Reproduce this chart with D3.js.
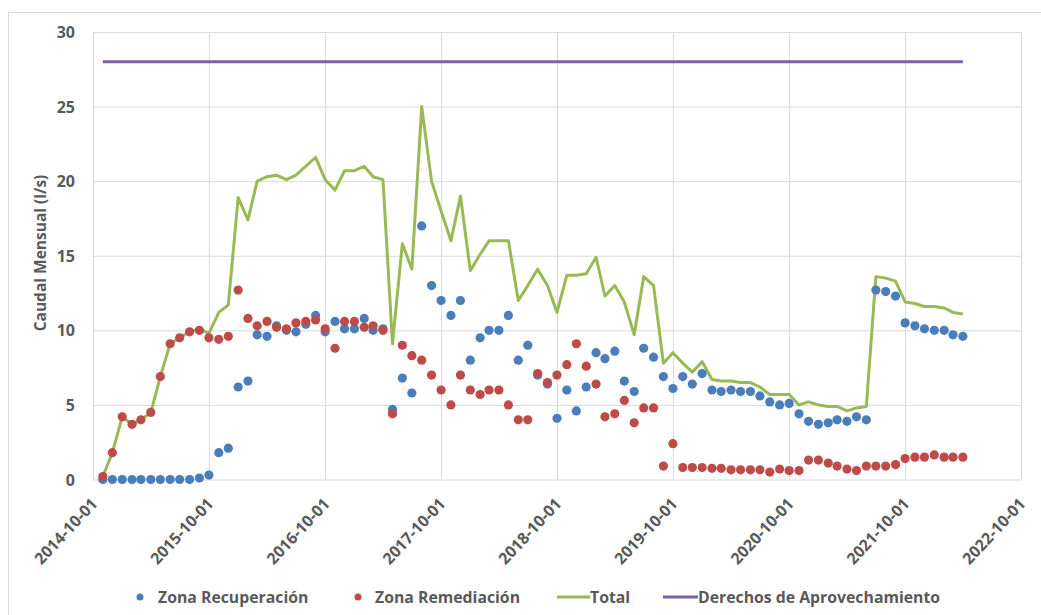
<!DOCTYPE html>
<html lang="es">
<head>
<meta charset="UTF-8">
<title>Caudal Mensual</title>
<script src="https://d3js.org/d3.v7.min.js"></script>
<style>
  body { margin: 0; background: #fff; font-family: "Open Sans", sans-serif; }
  svg { display: block; }
  .axis .domain { display: none; }
  .axis line { stroke: #d9d9d9; stroke-width: 1; }
  .axis text { fill: #595959; font-weight: bold; font-family: "Open Sans", sans-serif; }
  .y.axis text { font-size: 16px; }
  .x.axis text { font-size: 16px; }
  .legend text { fill: #595959; font-weight: bold; font-size: 15.8px; }
  .ytitle { fill: #595959; font-weight: bold; font-size: 15.5px; }
</style>
</head>
<body>
<svg width="1041" height="615"></svg>
<script>
// x categories: one reading per month, Nov 2014 .. Apr 2022 (90 months)
const months = d3.timeMonth.range(new Date(2014, 10, 1), new Date(2022, 4, 1));

const recuperacion = [
  0, 0, 0, 0, 0, 0, 0, 0, 0, 0,
  0.1, 0.3, 1.8, 2.1, 6.2, 6.6, 9.7, 9.6, 10.3, 10.0,
  9.9, 10.4, 11.0, 9.9, 10.6, 10.1, 10.1, 10.8, 10.0, 10.1,
  4.7, 6.8, 5.8, 17.0, 13.0, 12.0, 11.0, 12.0, 8.0, 9.5,
  10.0, 10.0, 11.0, 8.0, 9.0, 7.0, 6.4, 4.1, 6.0, 4.6,
  6.2, 8.5, 8.1, 8.6, 6.6, 5.9, 8.8, 8.2, 6.9, 6.1,
  6.9, 6.4, 7.1, 6.0, 5.9, 6.0, 5.9, 5.9, 5.6, 5.2,
  5.0, 5.1, 4.4, 3.9, 3.7, 3.8, 4.0, 3.9, 4.2, 4.0,
  12.7, 12.6, 12.3, 10.5, 10.3, 10.1, 10.0, 10.0, 9.7, 9.6
];

const remediacion = [
  0.2, 1.8, 4.2, 3.7, 4.0, 4.5, 6.9, 9.1, 9.5, 9.9,
  10.0, 9.5, 9.4, 9.6, 12.7, 10.8, 10.3, 10.6, 10.2, 10.1,
  10.5, 10.6, 10.7, 10.1, 8.8, 10.6, 10.6, 10.2, 10.3, 10.0,
  4.4, 9.0, 8.3, 8.0, 7.0, 6.0, 5.0, 7.0, 6.0, 5.7,
  6.0, 6.0, 5.0, 4.0, 4.0, 7.1, 6.5, 7.0, 7.7, 9.1,
  7.6, 6.4, 4.2, 4.4, 5.3, 3.8, 4.8, 4.8, 0.9, 2.4,
  0.8, 0.8, 0.8, 0.75, 0.75, 0.65, 0.65, 0.65, 0.65, 0.5,
  0.7, 0.6, 0.6, 1.3, 1.3, 1.1, 0.9, 0.7, 0.6, 0.9,
  0.9, 0.9, 1.0, 1.4, 1.5, 1.5, 1.65, 1.5, 1.5, 1.5
];

const total = [
  0.2, 1.8, 4.2, 3.7, 4.0, 4.5, 6.9, 9.1, 9.5, 9.9,
  10.1, 9.8, 11.2, 11.7, 18.9, 17.4, 20.0, 20.3, 20.4, 20.1,
  20.4, 21.0, 21.6, 20.1, 19.4, 20.7, 20.7, 21.0, 20.3, 20.1,
  9.1, 15.8, 14.1, 25.0, 20.0, 18.0, 16.0, 19.0, 14.0, 15.1,
  16.0, 16.0, 16.0, 12.0, 13.0, 14.1, 13.0, 11.2, 13.7, 13.7,
  13.8, 14.9, 12.3, 13.0, 11.9, 9.7, 13.6, 13.0, 7.8, 8.5,
  7.8, 7.2, 7.9, 6.7, 6.6, 6.6, 6.5, 6.5, 6.2, 5.7,
  5.7, 5.7, 5.0, 5.2, 5.0, 4.9, 4.9, 4.6, 4.8, 4.9,
  13.6, 13.5, 13.3, 11.9, 11.8, 11.6, 11.6, 11.5, 11.2, 11.1
];

const derechos = 28; // constant water right, l/s

const xTicks = ["2014-10-01", "2015-10-01", "2016-10-01", "2017-10-01", "2018-10-01",
                "2019-10-01", "2020-10-01", "2021-10-01", "2022-10-01"];
const yTicks = [0, 5, 10, 15, 20, 25, 30];

const colors = { rec: "#4a7ebb", rem: "#be4b48", total: "#98b954", der: "#7d60a0" };

const svg = d3.select("svg");
const margin = { top: 32, right: 20, bottom: 135.5, left: 93 };
const width = 1041 - margin.left - margin.right;
const height = 615 - margin.top - margin.bottom;

// outer chart frame
svg.append("rect")
  .attr("x", 8.5).attr("y", 12.5)
  .attr("width", 1045).attr("height", 620)
  .attr("fill", "none").attr("stroke", "#d9d9d9");

const g = svg.append("g").attr("transform", `translate(${margin.left},${margin.top})`);

const parse = d3.timeParse("%Y-%m-%d");
const x = d3.scaleTime()
  .domain([parse(xTicks[0]), parse(xTicks[xTicks.length - 1])])
  .range([0, width]);
const y = d3.scaleLinear().domain([0, 30]).range([height, 0]);

// y axis + horizontal gridlines
const yAxis = g.append("g").attr("class", "y axis")
  .call(d3.axisLeft(y).tickValues(yTicks).tickSize(-width).tickPadding(0));
yAxis.selectAll(".tick text").attr("x", -18).attr("dy", "0.35em");

// x axis + vertical gridlines
const xAxis = g.append("g").attr("class", "x axis")
  .attr("transform", `translate(0,${height})`)
  .call(d3.axisBottom(x).tickValues(xTicks.map(parse)).tickSize(-height)
    .tickFormat(d3.timeFormat("%Y-%m-%d")));
xAxis.selectAll(".tick text")
  .attr("x", 0).attr("y", 0).attr("dy", 0)
  .attr("text-anchor", "end")
  .attr("transform", "translate(5,25) rotate(-47)");

// y axis title
svg.append("text").attr("class", "ytitle")
  .attr("transform", "translate(46,253) rotate(-90)")
  .attr("text-anchor", "middle")
  .text("Caudal Mensual (l/s)");

// lines
const line = d3.line().x((d, i) => x(months[i])).y(d => y(d));

g.append("path")
  .datum(total)
  .attr("fill", "none").attr("stroke", colors.total)
  .attr("stroke-width", 3).attr("stroke-linejoin", "round")
  .attr("d", line);

g.append("path")
  .datum(months.map(() => derechos))
  .attr("fill", "none").attr("stroke", colors.der)
  .attr("stroke-width", 3)
  .attr("d", line);

// markers
g.append("g").selectAll("circle")
  .data(recuperacion)
  .join("circle")
  .attr("cx", (d, i) => x(months[i]))
  .attr("cy", d => y(d))
  .attr("r", 4.6)
  .attr("fill", colors.rec);

g.append("g").selectAll("circle")
  .data(remediacion)
  .join("circle")
  .attr("cx", (d, i) => x(months[i]))
  .attr("cy", d => y(d))
  .attr("r", 4.6)
  .attr("fill", colors.rem);

// legend
const legend = svg.append("g").attr("class", "legend");
const ly = 597;
const items = [
  { type: "dot", color: colors.rec, label: "Zona Recuperación", x: 140, tx: 158 },
  { type: "dot", color: colors.rem, label: "Zona Remediación", x: 358, tx: 375 },
  { type: "line", color: colors.total, label: "Total", x: 557, tx: 590 },
  { type: "line", color: colors.der, label: "Derechos de Aprovechamiento", x: 663, tx: 698 }
];
items.forEach(it => {
  if (it.type === "dot") {
    legend.append("circle").attr("cx", it.x).attr("cy", ly).attr("r", 3.5).attr("fill", it.color);
  } else {
    legend.append("line").attr("x1", it.x).attr("x2", it.tx)
      .attr("y1", ly).attr("y2", ly)
      .attr("stroke", it.color).attr("stroke-width", 3);
  }
  legend.append("text").attr("x", it.tx).attr("y", ly).attr("dy", "0.35em").text(it.label);
});
</script>
</body>
</html>
